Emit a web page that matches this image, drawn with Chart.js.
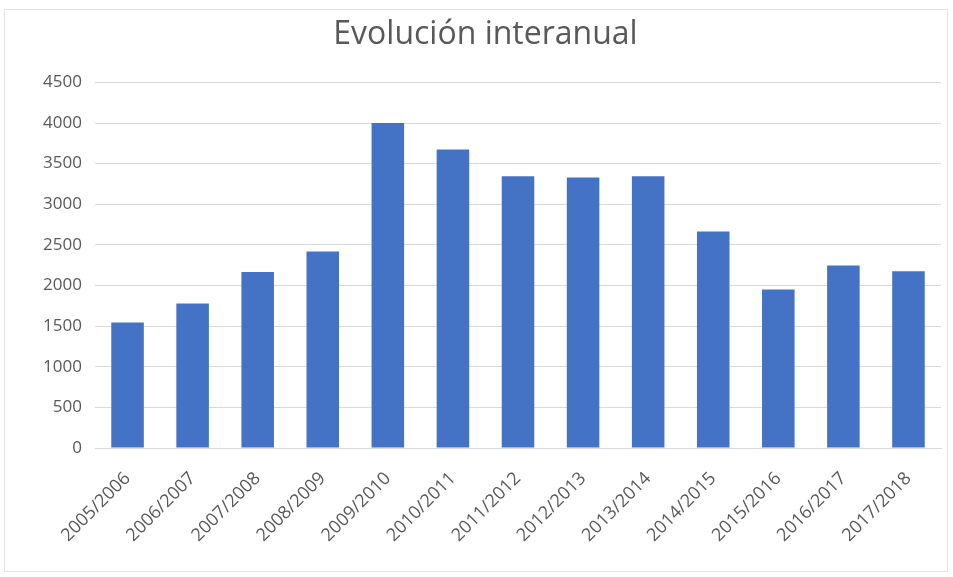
<!DOCTYPE html>
<html>
<head>
<meta charset="utf-8">
<script src="https://cdn.jsdelivr.net/npm/chart.js@4"></script>
<style>
  html, body { margin: 0; padding: 0; background: #fff; }
  #wrap { position: relative; width: 953px; height: 577px; }
  #frame { position: absolute; left: 4px; top: 9px; width: 944px; height: 563px; border: 1px solid #e4e4e4; box-sizing: border-box; }
</style>
</head>
<body>
<div id="wrap">
  <div id="frame"></div>
  <canvas id="chart" width="953" height="577"></canvas>
</div>
<script>
const seasons = ['2005/2006', '2006/2007', '2007/2008', '2008/2009', '2009/2010', '2010/2011', '2011/2012',
  '2012/2013', '2013/2014', '2014/2015', '2015/2016', '2016/2017', '2017/2018'];
const totals = [1545, 1780, 2165, 2420, 4000, 3675, 3345, 3330, 3345, 2665, 1950, 2245, 2175];
const yTicks = [0, 500, 1000, 1500, 2000, 2500, 3000, 3500, 4000, 4500];

const font = "'Open Sans', 'Liberation Sans', sans-serif";

new Chart(document.getElementById('chart'), {
  type: 'bar',
  data: { labels: seasons, datasets: [
    { label: 'Total', data: totals, backgroundColor: '#4472c4', categoryPercentage: 1, barPercentage: 0.5 }
  ] },
  options: {
    responsive: false, animation: false,
    layout: { padding: { left: 30, right: 12, top: 0, bottom: 0 } },
    plugins: {
      legend: { display: false },
      tooltip: { enabled: false },
      title: { display: true, text: 'Evolución interanual', color: '#595959',
        font: { family: font, size: 32, weight: 'normal' }, padding: { top: 16, bottom: 28 } }
    },
    scales: {
      y: {
        min: 0, max: 4500,
        afterBuildTicks: s => { s.ticks = yTicks.map(v => ({ value: v })); },
        afterFit: s => { s.width = 65; },
        grid: { color: '#d9d9d9', drawTicks: false },
        border: { display: false },
        ticks: { color: '#595959', padding: 13, callback: v => String(v), font: { family: font, size: 17 } }
      },
      x: {
        afterFit: s => { s.height = 129; },
        grid: { display: false },
        border: { color: '#d9d9d9' },
        ticks: { color: '#595959', minRotation: 45, maxRotation: 45, padding: 12, font: { family: font, size: 18 } }
      }
    }
  }
});
</script>
</body>
</html>
